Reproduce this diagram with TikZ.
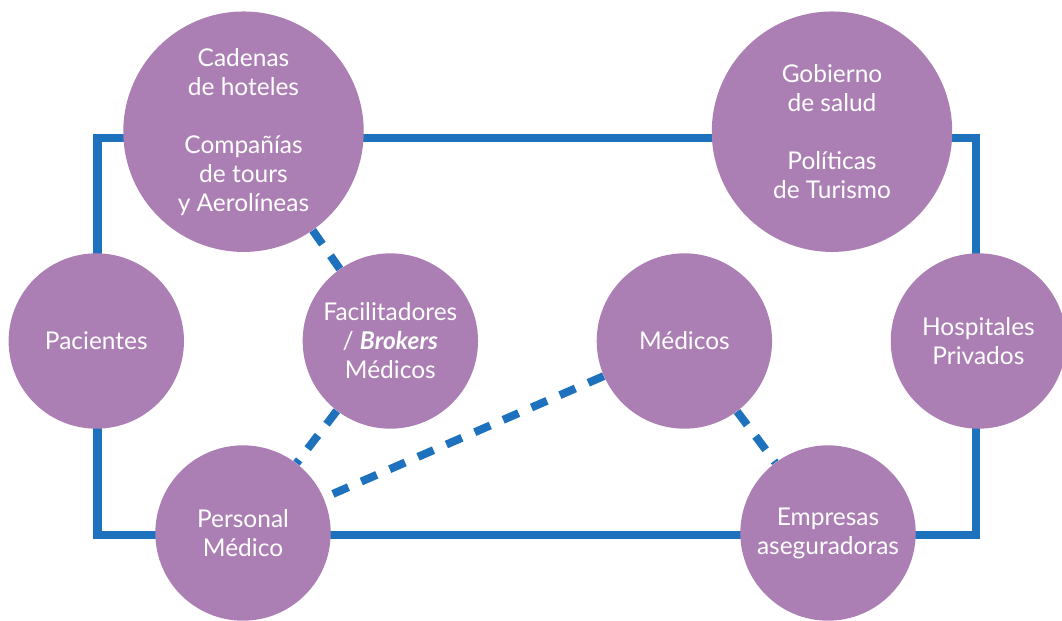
\documentclass[tikz,border=0pt]{standalone}
\usepackage{fontspec}
\setmainfont{Lato}
\usetikzlibrary{positioning}
\usetikzlibrary{backgrounds}
\definecolor{lila}{HTML}{AC7FB4}
\definecolor{azul}{HTML}{1E72BD}
\tikzset{
  actor/.style={circle, fill=lila, text=white, inner sep=0pt, minimum size=124.7pt,
    align=center, font=\fontsize{17.4}{20.6}\selectfont},
  grande/.style={actor, minimum size=171pt},
  marco/.style={draw=azul, line width=5.7pt},
  enlace/.style={draw=azul, line width=5.7pt, dash pattern=on 12pt off 10pt},
}

\begin{document}
\begin{tikzpicture}[x=0.025cm,y=-0.025cm,node distance=84pt]
        \useasboundingbox (0,0) rectangle (1062,620);
        % Nodes
        \node[actor] (pacientes) at (96.3,341) {Pacientes};
        \node[actor, right=of pacientes] (brokers) {Facilitadores\\/ \textit{\textbf{Brokers}}\\Médicos};
        \node[actor, right=of brokers] (medicos) {Médicos};
        \node[actor, right=of medicos] (hospitales) {Hospitales\\Privados};
        \node[grande] (cadenas) at (243.5,131.7) {Cadenas\\de hoteles\\[20.6pt]Compañías\\de tours\\y Aerolíneas};
        \node[grande] (gobierno) at (832,131.7) {Gobierno\\de salud\\[20.6pt]Políticas\\de Turismo};
        \node[actor] (personal) at (243,533) {Personal\\Médico};
        \node[actor] (empresas) at (828,533) {Empresas\\aseguradoras};

        % Frame and links
        \begin{scope}[on background layer]
          \coordinate (so) at (97.5,138);
          \coordinate (ie) at (975.5,534.5);
          \draw[marco] (so) rectangle (ie);
          \draw[enlace] (cadenas) -- (brokers);
          \draw[enlace] (brokers) -- (personal);
          \draw[enlace] (medicos) -- (personal);
          \draw[enlace] (medicos) -- (empresas);
        \end{scope}
\end{tikzpicture}
\end{document}
